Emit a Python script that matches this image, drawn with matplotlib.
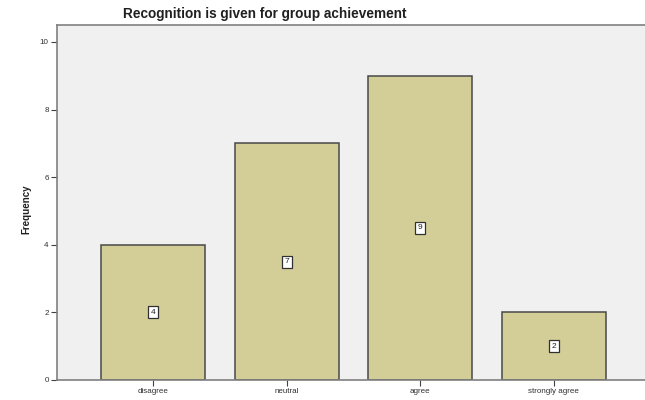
import matplotlib
matplotlib.use("Agg")
import matplotlib.pyplot as plt

categories = ["disagree", "neutral", "agree", "strongly agree"]
frequencies = [4, 7, 9, 2]
yticks = [0, 2, 4, 6, 8, 10]

plt.rcParams['font.family'] = ['Liberation Sans', 'DejaVu Sans']

fig = plt.figure(figsize=(6.45, 4.0), dpi=100)
fig.patch.set_facecolor('white')
L, R, B, T = 57/645, 650/645, 1 - 380/400, 1 - 25/400
ax = fig.add_axes([L, B, R - L, T - B])
ax.set_facecolor('#F0F0F0')

x = list(range(len(categories)))
ax.bar(x, frequencies, width=0.78, color='#D3CE97', edgecolor='#484848', linewidth=1.1, zorder=2)
for xi, v in zip(x, frequencies):
    ax.text(xi, v / 2, str(v), ha='center', va='center', fontsize=6, color='#202020', zorder=3,
            bbox=dict(boxstyle='square,pad=0.3', facecolor='white', edgecolor='#303030', linewidth=0.9))

ax.set_xlim(-0.72, 3.72)
ax.set_ylim(0, 10.5)
ax.set_xticks(x)
ax.set_xticklabels(categories, fontsize=5.8, color='#303030')
ax.set_yticks(yticks)
ax.set_yticklabels([str(t) for t in yticks], fontsize=5.8, color='#303030')
ax.tick_params(axis='both', length=4, width=0.8, color='#404040', pad=2)

for s in ['left', 'bottom', 'top']:
    ax.spines[s].set_color('#808080')
    ax.spines[s].set_linewidth(1.2)
ax.spines['right'].set_visible(False)

ax.set_ylabel('Frequency', fontsize=7, fontweight='bold', color='#202020', labelpad=18)
ax.yaxis.set_label_coords(-26/593, 0.48)
fig.text(265/645, 1 - 14/400, 'Recognition is given for group achievement', ha='center', va='center',
         fontsize=9.8, fontweight='bold', color='#202020')

fig.savefig('out.png', dpi=100)
